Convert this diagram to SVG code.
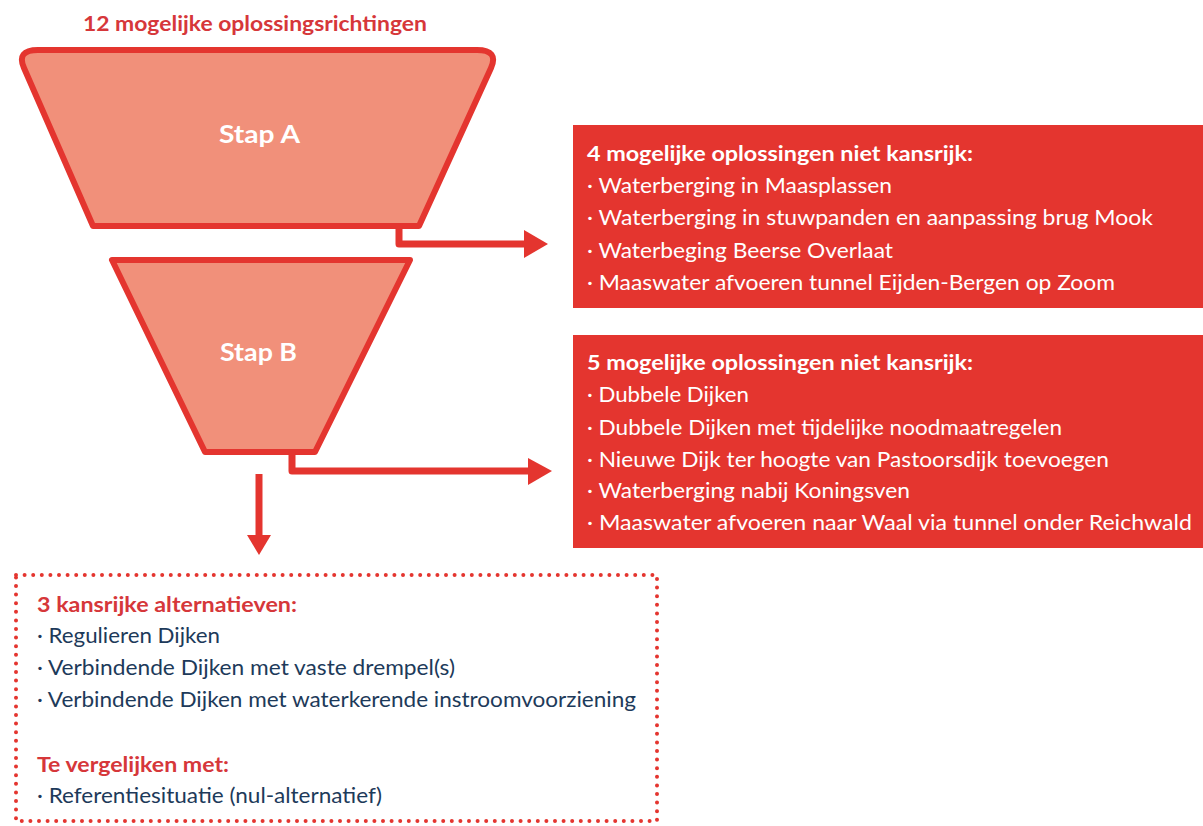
<svg xmlns="http://www.w3.org/2000/svg" width="1203" height="826" viewBox="0 0 1203 826">
<style>
.t{font-family:Lato,"Open Sans","Liberation Sans",sans-serif}
.title{font-size:21px;font-weight:700;fill:#d6373a}
.stap{font-size:24px;font-weight:700;fill:#ffffff}
.hw{font-size:21px;font-weight:700;fill:#ffffff}
.iw{font-size:21px;font-weight:400;fill:#ffffff}
.hr{font-size:21px;font-weight:700;fill:#d6373a}
.in{font-size:21px;font-weight:400;fill:#1d3a5a}
.funnel{fill:#f1907a;stroke:#e4352f;stroke-width:6;stroke-linejoin:round}
.box{fill:#e4352f}
.conn{fill:none;stroke:#e4352f;stroke-width:7;stroke-linejoin:round}
.head{fill:#e4352f}
</style>
<rect width="1203" height="826" fill="#ffffff"/>
<text class="t title" x="83" y="31" textLength="344" lengthAdjust="spacingAndGlyphs">12 mogelijke oplossingsrichtingen</text>
<g id="stapA">
<path class="funnel" d="M38 50 L477 50 Q499 50 491 68 L419 226 L93 226 L24 68 Q16 50 38 50 Z"/>
<text class="t stap" x="219" y="143" textLength="81" lengthAdjust="spacingAndGlyphs">Stap A</text>
</g>
<g id="stapB">
<path class="funnel" d="M112 260 L410 260 L315 452 L205 452 Z"/>
<text class="t stap" x="220" y="361" textLength="77" lengthAdjust="spacingAndGlyphs">Stap B</text>
</g>
<g id="connectors">
<path class="conn" d="M399 226 L399 244 L526 244"/>
<path class="head" d="M524 230 L548 244 L524 258 Z"/>
<path class="conn" d="M292 452 L292 471 L530 471"/>
<path class="head" d="M528 458 L552 471 L528 485 Z"/>
<path class="conn" d="M259 474 L259 537"/>
<path class="head" d="M247 535 L271 535 L259 555 Z"/>
</g>
<g id="box1">
<rect class="box" x="573" y="125" width="630" height="183"/>
<text class="t hw" x="587" y="161" textLength="386" lengthAdjust="spacingAndGlyphs">4 mogelijke oplossingen niet kansrijk:</text>
<text class="t iw" x="587" y="193" textLength="305" lengthAdjust="spacingAndGlyphs">· Waterberging in Maasplassen</text>
<text class="t iw" x="587" y="225" textLength="566" lengthAdjust="spacingAndGlyphs">· Waterberging in stuwpanden en aanpassing brug Mook</text>
<text class="t iw" x="587" y="258" textLength="306" lengthAdjust="spacingAndGlyphs">· Waterbeging Beerse Overlaat</text>
<text class="t iw" x="587" y="290" textLength="528" lengthAdjust="spacingAndGlyphs">· Maaswater afvoeren tunnel Eijden-Bergen op Zoom</text>
</g>
<g id="box2">
<rect class="box" x="573" y="335" width="630" height="213"/>
<text class="t hw" x="587" y="370" textLength="386" lengthAdjust="spacingAndGlyphs">5 mogelijke oplossingen niet kansrijk:</text>
<text class="t iw" x="587" y="402" textLength="162" lengthAdjust="spacingAndGlyphs">· Dubbele Dijken</text>
<text class="t iw" x="587" y="435" textLength="475" lengthAdjust="spacingAndGlyphs">· Dubbele Dijken met tijdelijke noodmaatregelen</text>
<text class="t iw" x="587" y="467" textLength="522" lengthAdjust="spacingAndGlyphs">· Nieuwe Dijk ter hoogte van Pastoorsdijk toevoegen</text>
<text class="t iw" x="587" y="498" textLength="323" lengthAdjust="spacingAndGlyphs">· Waterberging nabij Koningsven</text>
<text class="t iw" x="587" y="530" textLength="605" lengthAdjust="spacingAndGlyphs">· Maaswater afvoeren naar Waal via tunnel onder Reichwald</text>
</g>
<g id="result">
<rect x="16" y="575" width="641" height="246" fill="none" stroke="#e4352f" stroke-width="4" stroke-linecap="round" stroke-dasharray="0 8.6"/>
<text class="t hr" x="37" y="612" textLength="260" lengthAdjust="spacingAndGlyphs">3 kansrijke alternatieven:</text>
<text class="t in" x="37" y="643" textLength="183" lengthAdjust="spacingAndGlyphs">· Regulieren Dijken</text>
<text class="t in" x="37" y="675" textLength="418" lengthAdjust="spacingAndGlyphs">· Verbindende Dijken met vaste drempel(s)</text>
<text class="t in" x="37" y="707" textLength="599" lengthAdjust="spacingAndGlyphs">· Verbindende Dijken met waterkerende instroomvoorziening</text>
<text class="t hr" x="37" y="772" textLength="192" lengthAdjust="spacingAndGlyphs">Te vergelijken met:</text>
<text class="t in" x="37" y="803" textLength="345" lengthAdjust="spacingAndGlyphs">· Referentiesituatie (nul-alternatief)</text>
</g>
</svg>
